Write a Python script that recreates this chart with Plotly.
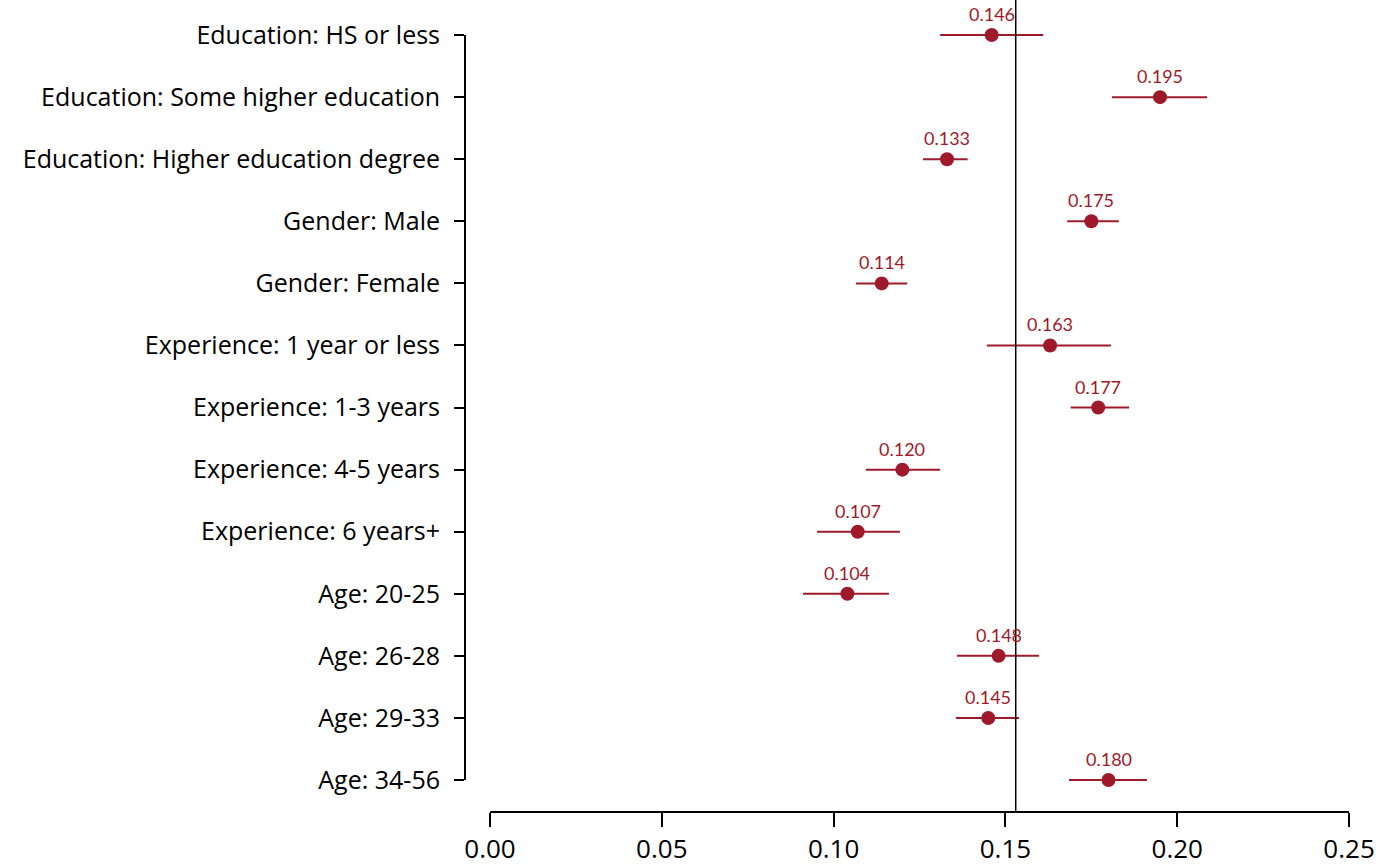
import plotly.graph_objects as go

categories = [
    "Education: HS or less",
    "Education: Some higher education",
    "Education: Higher education degree",
    "Gender: Male",
    "Gender: Female",
    "Experience: 1 year or less",
    "Experience: 1-3 years",
    "Experience: 4-5 years",
    "Experience: 6 years+",
    "Age: 20-25",
    "Age: 26-28",
    "Age: 29-33",
    "Age: 34-56",
]
estimates = [0.146, 0.195, 0.133, 0.175, 0.114, 0.163, 0.177, 0.120, 0.107, 0.104, 0.148, 0.145, 0.180]
lower = [0.131, 0.181, 0.126, 0.168, 0.1065, 0.1446, 0.169, 0.1094, 0.0952, 0.0911, 0.1359, 0.1356, 0.1685]
upper = [0.161, 0.2087, 0.139, 0.183, 0.1214, 0.1807, 0.186, 0.131, 0.1193, 0.1161, 0.1598, 0.154, 0.1912]
reference_value = 0.153
x_ticks = [0.00, 0.05, 0.10, 0.15, 0.20, 0.25]

RED = "#9E1A2B"
FONT = "Lato"
LABEL_FONT = "Open Sans"

ypos = list(range(len(categories)))
err_plus = [u - e for u, e in zip(upper, estimates)]
err_minus = [e - l for e, l in zip(estimates, lower)]

fig = go.Figure()
fig.add_trace(go.Scatter(
    x=estimates, y=ypos, mode="markers",
    marker=dict(color=RED, size=14),
    error_x=dict(type="data", symmetric=False, array=err_plus, arrayminus=err_minus,
                 color=RED, thickness=2, width=0),
    showlegend=False, hoverinfo="skip",
))

for x, y in zip(estimates, ypos):
    fig.add_annotation(x=x, y=y, text=f"{x:.3f}", showarrow=False, yshift=21,
                       font=dict(family=FONT, size=18, color=RED))

# reference vertical line
fig.add_shape(type="line", xref="x", yref="paper", x0=reference_value, x1=reference_value,
              y0=0, y1=1, line=dict(color="black", width=1.5))
# x axis line spanning ticks
fig.add_shape(type="line", xref="x", yref="paper", x0=x_ticks[0], x1=x_ticks[-1],
              y0=0, y1=0, line=dict(color="black", width=2))
# y axis line spanning categories
fig.add_shape(type="line", xref="paper", yref="y", x0=0, x1=0,
              y0=ypos[0], y1=ypos[-1], line=dict(color="black", width=2))

fig.update_layout(
    width=1400, height=865,
    margin=dict(l=465, r=30, t=0, b=53),
    plot_bgcolor="white", paper_bgcolor="white",
    font=dict(family=FONT, color="black"),
    xaxis=dict(range=[-0.00728, 0.2561], tickvals=x_ticks,
               ticktext=[f"{v:.2f}" for v in x_ticks],
               showgrid=False, zeroline=False, showline=False,
               ticks="outside", ticklen=14, tickwidth=2, tickcolor="black",
               tickfont=dict(family=LABEL_FONT, size=26, color="black")),
    yaxis=dict(range=[12.515, -0.565], tickvals=ypos, ticktext=categories,
               showgrid=False, zeroline=False, showline=False,
               ticks="outside", ticklen=10, tickwidth=2, tickcolor="black",
               ticklabelstandoff=9,
               tickfont=dict(family=LABEL_FONT, size=25, color="black")),
)

fig.write_html("out.html")
